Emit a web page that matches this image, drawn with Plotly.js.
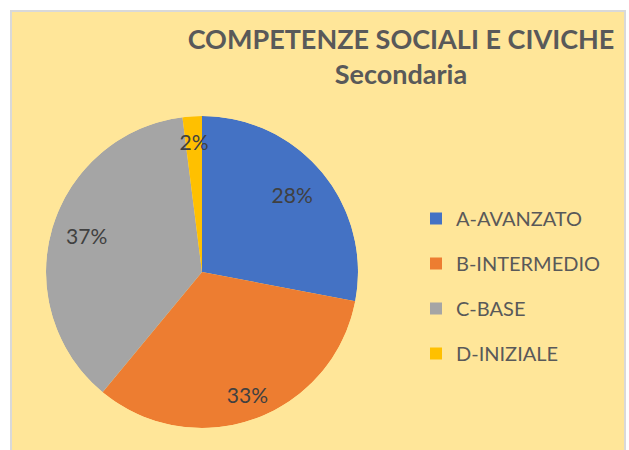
<!DOCTYPE html>
<html>
<head>
<meta charset="utf-8">
<script src="https://cdn.plot.ly/plotly-3.0.1.min.js"></script>
<style>
  html, body { margin: 0; padding: 0; background: #ffffff; width: 629px; height: 450px; overflow: hidden; }
  #frame { position: absolute; left: 10px; top: 10px; width: 612px; height: 450px;
           border: 2px solid #D9D9D9; background: #FFE699; }
  #chart { width: 612px; height: 438px; }
</style>
</head>
<body>
<div id="frame"><div id="chart"></div></div>
<script>
const categories = ["A-AVANZATO", "B-INTERMEDIO", "C-BASE", "D-INIZIALE"];
const values = [28, 33, 37, 2];
const colors = ["#4472C4", "#ED7D31", "#A5A5A5", "#FFC000"];
const titleLine1 = "COMPETENZE SOCIALI E CIVICHE";
const titleLine2 = "Secondaria";

const FONT = "Lato, 'Open Sans', sans-serif";
const W = 612, H = 438;
const pieDomain = { x: [34/W, 346/W], y: [22/H, 334/H] };

// slice geometry derived from the values
const total = values.reduce((a, b) => a + b, 0);
const spans = values.map(v => v / total * 360);
const midAngles = [];
let cum = 0;
values.forEach(v => { midAngles.push((cum + v / 2) / total * 360); cum += v; });
const pctText = values.map(v => Math.round(v / total * 100) + "%");
const labelRadius = [0.75, 0.86, 0.77, 0.82];

// one pie slice per trace (barpolar wedges), each with its own legend entry
const sliceTraces = categories.map((c, i) => ({
  type: "barpolar",
  r: [1],
  theta: [midAngles[i]],
  width: [spans[i]],
  name: c,
  legendgroup: c,
  marker: { color: colors[i], line: { width: 0 } },
  hoverinfo: "name",
  subplot: "polar"
}));

// percentage labels
const labels = {
  type: "scatterpolar",
  mode: "text",
  r: labelRadius,
  theta: midAngles,
  text: pctText,
  textfont: { family: FONT, size: 21, color: "#404040" },
  textposition: "middle center",
  showlegend: false,
  hoverinfo: "skip",
  subplot: "polar"
};

const layout = {
  width: W, height: H,
  paper_bgcolor: "#FFE699",
  plot_bgcolor: "#FFE699",
  margin: { l: 0, r: 0, t: 0, b: 0 },
  title: {
    text: "<b>" + titleLine1 + "</b><br><b>" + titleLine2 + "</b>",
    x: 389/W, xanchor: "center",
    y: 1 - 37/H, yanchor: "top", yref: "container",
    font: { family: FONT, size: 27, color: "#595959" }
  },
  polar: {
    domain: pieDomain,
    bgcolor: "rgba(0,0,0,0)",
    bargap: 0,
    angularaxis: { visible: false, rotation: 90, direction: "clockwise", showgrid: false, showline: false },
    radialaxis: { visible: false, range: [0, 1], showgrid: false, showline: false }
  },
  showlegend: true,
  legend: {
    x: 404/W, xanchor: "left",
    y: 1 - 187/H, yanchor: "top",
    bgcolor: "rgba(0,0,0,0)",
    font: { family: FONT, size: 20, color: "#595959" },
    traceorder: "grouped",
    tracegroupgap: 16
  }
};

Plotly.newPlot("chart", sliceTraces.concat([labels]), layout, { displayModeBar: false, staticPlot: true });
</script>
</body>
</html>
